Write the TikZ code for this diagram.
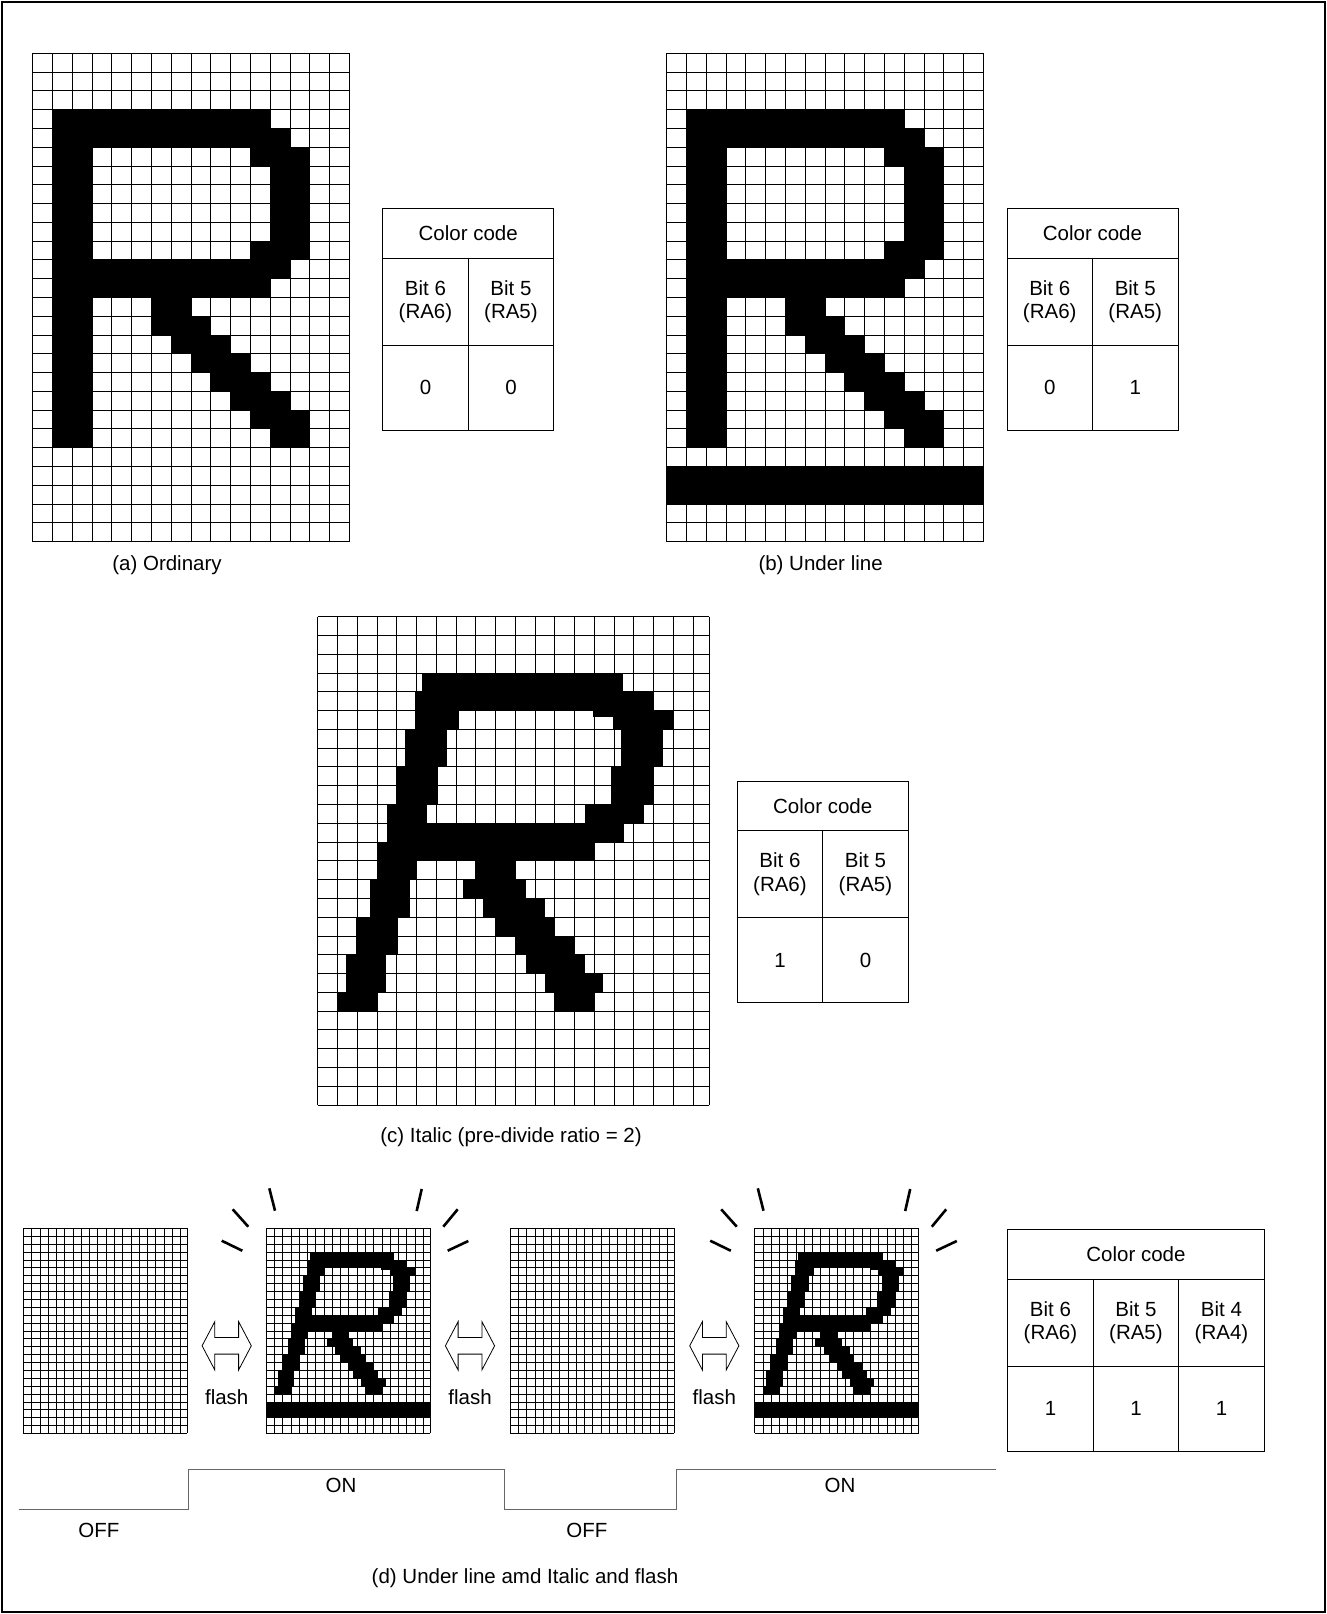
\documentclass[tikz,border=0pt]{standalone}
\usepackage{fontspec}
\setmainfont{Liberation Sans}
\usetikzlibrary{positioning}

% dot-matrix grid, in cell units: [style]{full columns}{rows}{right edge}
\newcommand{\cellgrid}[4][gridline]{%
  \foreach \i in {0,...,#2} \draw[#1] (\i,0) -- (\i,#3);
  \draw[#1] (#4,0) -- (#4,#3);
  \foreach \j in {0,...,#3} \draw[#1] (0,\j) -- (#4,\j);}

% ordinary R
\newcommand{\glyphplain}{%
  \foreach \ua/\va/\ub/\vb in {1/3/12/4, 1/4/13/5, 1/5/3/21, 11/5/14/6, 12/6/14/10,
      11/10/14/11, 1/11/13/12, 1/12/12/13, 6/13/8/14, 6/14/9/15, 7/15/10/16,
      8/16/11/17, 9/17/12/18, 10/18/13/19, 11/19/14/20, 12/20/14/21}
    \fill (\ua,\va) rectangle (\ub,\vb);}

% italic R (half-cell shifts)
\newcommand{\glyphitalic}{%
  \foreach \ua/\va/\ub/\vb in {5.3/3/15.48/4, 4.92/4/17.03/5, 4.92/5/7.15/6,
      14.96/5/18.05/6, 13.96/5/14.96/5.32, 4.42/6/6.53/8, 15.38/6/17.46/8,
      3.95/8/6.1/10, 14.85/8/17.03/10, 3.49/10/5.52/11, 13.53/10/16.5/11,
      3.49/11/15.53/12, 3/12/14.05/13, 3/13/5.01/14, 7.98/13/10.03/14,
      2.65/14/4.68/16, 7.35/14/10.53/15, 8.38/15/11.53/16, 1.92/16/4.05/18,
      8.99/16/12.02/17, 10.03/17/13/18, 1.42/18/3.44/20, 10.57/18/13.55/19,
      11.5/19/14.47/20, 1.01/20/3.04/21, 11.97/20/14.05/21}
    \fill (\ua,\va) rectangle (\ub,\vb);}

% rays round a lit character
\newcommand{\sparkles}{%
  \draw[spark] (-44.3,12.4) -- (-23.7,22.4);
  \draw[spark] (-33.3,-19) -- (-17.7,-1.6);
  \draw[spark] (3.3,-40) -- (9,-17.6);
  \draw[spark] (155.7,-39.3) -- (150.7,-17.3);
  \draw[spark] (191.7,-19) -- (177.3,-1.6);
  \draw[spark] (202.3,12.7) -- (181.7,22.4);}

\begin{document}
\begin{tikzpicture}[
    x=1pt, y=-1pt,
    gridline/.style={line width=0.9pt},
    finegrid/.style={line width=0.55pt},
    hdcell/.style={draw, line width=1pt, inner sep=0pt, outer sep=0pt, anchor=north west,
      minimum height=49.5pt, font=\fontsize{20.5}{23.5}\selectfont},
    bitcell/.style={hdcell, minimum width=85.5pt, minimum height=87pt, align=center},
    valcell/.style={hdcell, minimum width=85.5pt, minimum height=85pt},
    caption/.style={inner sep=0pt, font=\fontsize{20.5}{23.5}\selectfont},
    spark/.style={line width=2.6pt},
    wave/.style={line width=1.2pt, black!60},
    flasharrow/.pic={\draw[line width=0.8pt, fill=white] (-24.6,0) -- (-11.9,-24.2) -- (-11.9,-8.3)
      -- (11.9,-8.3) -- (11.9,-24.2) -- (24.6,0) -- (11.9,24.2) -- (11.9,8.3)
      -- (-11.9,8.3) -- (-11.9,24.2) -- cycle;}
]
\useasboundingbox (0,0) rectangle (1327,1614);
\draw[line width=1.5pt] (2,2) rectangle (1325,1612);

% (a) Ordinary
\begin{scope}[shift={(32.7,53.3)}, x=19.8pt, y=-18.78pt]
  \cellgrid{16}{26}{16}
  \glyphplain
\end{scope}
\node[caption] (capa) at (167,565) {(a) Ordinary};

\node[hdcell, minimum width=171pt] (cca) at (382.7,208.5) {Color code};
\node[bitcell, below=0pt of cca.south west, anchor=north west] (cca6) {Bit 6\\(RA6)};
\node[bitcell, right=0pt of cca6] (cca5) {Bit 5\\(RA5)};
\node[valcell, below=0pt of cca6] (cca6v) {0};
\node[valcell, below=0pt of cca5] (cca5v) {0};

% (b) Under line
\begin{scope}[shift={(666.7,53.3)}, x=19.79pt, y=-18.78pt]
  \cellgrid{16}{26}{16}
  \glyphplain
  \fill (0,22) rectangle (16,24);
\end{scope}
\node[caption] (capb) at (820.6,565) {(b) Under line};

\node[hdcell, minimum width=171pt] (ccb) at (1007,208.5) {Color code};
\node[bitcell, below=0pt of ccb.south west, anchor=north west] (ccb6) {Bit 6\\(RA6)};
\node[bitcell, right=0pt of ccb6] (ccb5) {Bit 5\\(RA5)};
\node[valcell, below=0pt of ccb6] (ccb6v) {0};
\node[valcell, below=0pt of ccb5] (ccb5v) {1};

% (c) Italic
\begin{scope}[shift={(317.7,616.7)}, x=19.75pt, y=-18.78pt]
  \cellgrid{19}{26}{19.83}
  \glyphitalic
\end{scope}
\node[caption] (capc) at (511,1137) {(c) Italic (pre-divide ratio = 2)};

\node[hdcell, minimum width=171pt] (ccc) at (737.2,781.4) {Color code};
\node[bitcell, below=0pt of ccc.south west, anchor=north west] (ccc6) {Bit 6\\(RA6)};
\node[bitcell, right=0pt of ccc6] (ccc5) {Bit 5\\(RA5)};
\node[valcell, below=0pt of ccc6] (ccc6v) {1};
\node[valcell, below=0pt of ccc5] (ccc5v) {0};

% (d) Under line, italic and flash
\begin{scope}[shift={(23.3,1228.3)}, x=8.27pt, y=-7.885pt]
  \cellgrid[finegrid]{19}{26}{19.83}
\end{scope}
\begin{scope}[shift={(266,1228.3)}, x=8.27pt, y=-7.885pt]
  \cellgrid[finegrid]{19}{26}{19.83}
  \glyphitalic
  \fill (0,22) rectangle (19.83,24);
\end{scope}
\begin{scope}[shift={(510,1228.3)}, x=8.27pt, y=-7.885pt]
  \cellgrid[finegrid]{19}{26}{19.83}
\end{scope}
\begin{scope}[shift={(754.5,1228.3)}, x=8.27pt, y=-7.885pt]
  \cellgrid[finegrid]{19}{26}{19.83}
  \glyphitalic
  \fill (0,22) rectangle (19.83,24);
\end{scope}
\begin{scope}[shift={(266,1228.3)}]
  \sparkles
\end{scope}
\begin{scope}[shift={(754.5,1228.3)}]
  \sparkles
\end{scope}

\pic at (226.7,1345.8) {flasharrow};
\pic at (470,1345.8) {flasharrow};
\pic at (714.3,1345.8) {flasharrow};
\node[caption] (fl1) at (226.7,1396.7) {flash};
\node[caption] (fl2) at (470,1396.7) {flash};
\node[caption] (fl3) at (714.3,1396.7) {flash};

% on/off timing
\draw[wave] (18.5,1509.3) -- (188.4,1509.3) -- (188.4,1469.2) -- (504.5,1469.2)
  -- (504.5,1509.3) -- (676.4,1509.3) -- (676.4,1469.2) -- (995.6,1469.2);
\node[caption] (on1) at (341,1485.6) {ON};
\node[caption] (on2) at (840,1485.6) {ON};
\node[caption] (off1) at (98.8,1530) {OFF};
\node[caption] (off2) at (586.8,1530) {OFF};

\node[hdcell, minimum width=256.5pt] (ccd) at (1007.7,1229.5) {Color code};
\node[bitcell, below=0pt of ccd.south west, anchor=north west] (ccd6) {Bit 6\\(RA6)};
\node[bitcell, right=0pt of ccd6] (ccd5) {Bit 5\\(RA5)};
\node[bitcell, right=0pt of ccd5] (ccd4) {Bit 4\\(RA4)};
\node[valcell, below=0pt of ccd6] (ccd6v) {1};
\node[valcell, below=0pt of ccd5] (ccd5v) {1};
\node[valcell, below=0pt of ccd4] (ccd4v) {1};

\node[caption] (capd) at (525,1578) {(d) Under line amd Italic and flash};
\end{tikzpicture}
\end{document}
